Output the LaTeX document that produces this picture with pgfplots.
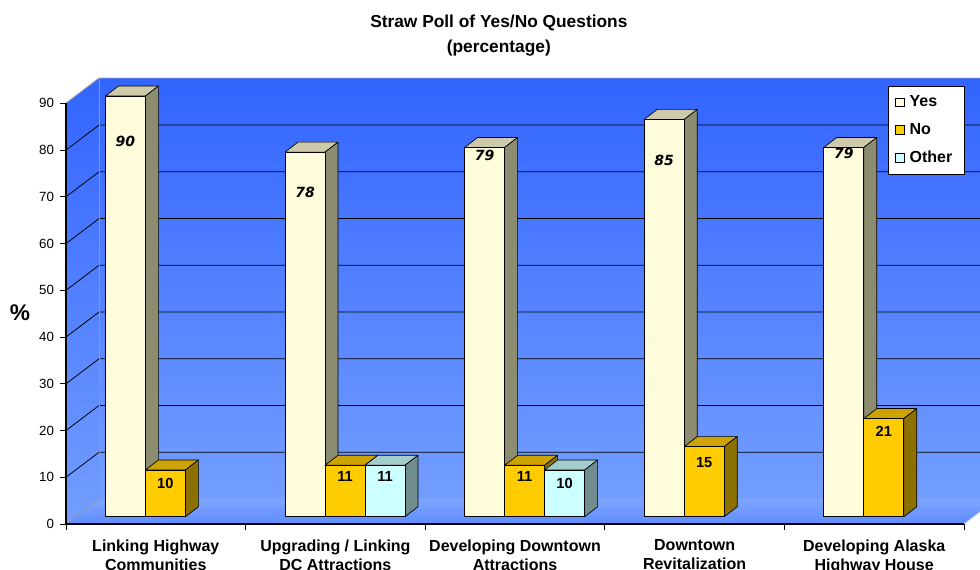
\documentclass[border=0pt]{standalone}
\usepackage{fontspec}
\setmainfont{Liberation Sans}
\newfontfamily\yesfont{DejaVu Sans}
\usepackage{pgfplots}
\usepackage{pgfplotstable}
\pgfplotsset{compat=1.18}

\definecolor{yesF}{RGB}{255,252,220}
\definecolor{yesT}{RGB}{204,202,170}
\definecolor{yesS}{RGB}{140,140,112}
\definecolor{noF}{RGB}{255,204,0}
\definecolor{noT}{RGB}{204,163,0}
\definecolor{noS}{RGB}{140,112,0}
\definecolor{otF}{RGB}{204,255,255}
\definecolor{otT}{RGB}{163,204,204}
\definecolor{otS}{RGB}{112,140,140}
\definecolor{wallTop}{RGB}{50,100,255}
\definecolor{wallBot}{RGB}{115,158,255}
\definecolor{floorBack}{RGB}{125,165,255}
\definecolor{floorFront}{RGB}{95,140,255}

\pgfdeclareplotmark{nothing}{}

\pgfplotstableread{
x y off
0.5 90 45
1.5 78 40
2.5 79 8
3.5 85 41
4.5 79 6
}\yesdata
\pgfplotstableread{
x y off
0.5 10 13
1.5 11 11
2.5 11 11
3.5 15 16
4.5 21 13
}\nodata
\pgfplotstableread{
x y off
1.5 11 11
2.5 10 13
}\otherdata

\pgfplotsset{
  box3d/.style n args={4}{%
    forget plot, only marks, mark=nothing, scatter,
    visualization depends on={rawy \as \val},
    scatter/@pre marker code/.code={%
      \pgfmathsetmacro\h{\val*3.5055}%
      \pgfmathsetmacro\xl{#4+7.2-15}%
      \pgfmathsetmacro\xr{#4+7.2+15}%
      \pgfmathsetmacro\xlb{\xl+9.75}%
      \pgfmathsetmacro\xrb{\xr+9.75}%
      \pgfmathsetmacro\yt{5.475}%
      \pgfmathsetmacro\ytb{5.475+7.5}%
      \pgfmathsetmacro\yb{5.475-\h}%
      \pgfmathsetmacro\ybb{\yb+7.5}%
      \filldraw[fill=#2, draw=black, line width=0.5pt, line join=round] (\xl pt,\yt pt) -- (\xr pt,\yt pt) -- (\xrb pt,\ytb pt) -- (\xlb pt,\ytb pt) -- cycle;
      \filldraw[fill=#3, draw=black, line width=0.5pt, line join=round] (\xr pt,\yt pt) -- (\xrb pt,\ytb pt) -- (\xrb pt,\ybb pt) -- (\xr pt,\yb pt) -- cycle;
      \filldraw[fill=#1, draw=black, line width=0.5pt] (\xl pt,\yb pt) rectangle (\xr pt,\yt pt);
    },
    scatter/@post marker code/.code={},
  },
  lbl/.style n args={2}{%
    forget plot, only marks, mark=nothing,
    visualization depends on={\thisrow{off} \as \off},
    point meta=\thisrow{y},
    nodes near coords={\pgfmathprintnumber{\pgfplotspointmeta}},
    every node near coord/.append style={anchor=center, font=#2, text=black,
      xshift={#1+7.2pt}, yshift={0.75pt*(7.3-\off)}},
  },
}

\begin{document}
\begin{tikzpicture}
\path[use as bounding box] (0pt,0pt) rectangle (735pt,-426.75pt);
\clip (0pt,0pt) rectangle (735pt,-426.75pt);
\begin{scope}[x=0.75pt,y=0.75pt]
  \shade[top color=wallTop, bottom color=wallBot] (99,-78) rectangle (997,-499);
  \shade[top color=wallTop, bottom color=wallBot] (66,-524) -- (99,-499) -- (99,-78) -- (66,-103) -- cycle;
  \shade[top color=floorBack, bottom color=floorFront] (66,-524) -- (964,-524) -- (997,-499) -- (99,-499) -- cycle;
  \foreach \v in {10,20,...,80} {
    \draw[black, line width=0.6pt] (66,{-524+4.674*\v}) -- (99,{-499+4.674*\v}) -- (997,{-499+4.674*\v});
  }
  \draw[black!35, line width=0.6pt] (66,-103) -- (99,-78) -- (997,-78);
  \draw[black!40, line width=0.5pt] (99,-499) -- (99,-78);
  \draw[black!40, line width=0.5pt] (66,-524) -- (99,-499);
  \draw[white!80!blue, line width=0.5pt] (964,-524) -- (997,-499);
\end{scope}
\begin{axis}[
  at={(49.5pt,-393pt)}, anchor=south west,
  scale only axis, width=673.5pt, height=315.5pt,
  xmin=0, xmax=5, ymin=0, ymax=90,
  clip=false,
  axis x line*=bottom, axis y line*=left,
  axis line style={black, line width=0.8pt},
  tick align=outside, major tick length=4.5pt,
  every tick/.style={black, line width=0.6pt},
  xtick={0,1,2,3,4,5}, xticklabels={},
  ytick={0,10,...,90},
  /pgf/number format/assume math mode=true,
  yticklabel style={font=\fontsize{10}{12}\selectfont, xshift=-1pt},
  extra x ticks={0.5,1.5,2.5,3.5,4.5},
  extra x tick labels={{Linking Highway\\Communities},{Upgrading / Linking\\DC Attractions},{Developing Downtown\\Attractions},{Downtown\\Revitalization},{Developing Alaska\\Highway House}},
  extra x tick style={major tick length=0pt, tick label style={align=center, font=\bfseries\fontsize{12}{14.4}\selectfont, yshift=-8.25pt}},
  ylabel={\%},
  ylabel style={rotate=-90, at={(axis description cs:-0.0512,0.5015)}, anchor=center, font=\bfseries\fontsize{17}{17}\selectfont},
  title={Straw Poll of Yes/No Questions\\(percentage)},
  title style={at={(axis description cs:0.482,1.143)}, anchor=center, align=center, font=\bfseries\fontsize{13}{18.75}\selectfont},
  legend style={at={(0.9154,1.041)}, anchor=north west, draw=black, fill=white, line width=0.6pt,
    font=\bfseries\fontsize{12}{14}\selectfont, row sep=7pt, inner xsep=5pt, inner ysep=5pt,
    nodes={inner xsep=4pt}},
  legend cell align=left,
]
\addplot[box3d={yesF}{yesT}{yesS}{-30}] table[x=x,y=y] {\yesdata};
\addplot[box3d={noF}{noT}{noS}{0}] table[x=x,y=y] {\nodata};
\addplot[box3d={otF}{otT}{otS}{30}] table[x=x,y=y] {\otherdata};
\addplot[lbl={-30pt}{\yesfont\bfseries\itshape\fontsize{10.5}{12}\selectfont}] table[x=x,y=y] {\yesdata};
\addplot[lbl={0pt}{\bfseries\fontsize{11}{13}\selectfont}] table[x=x,y=y] {\nodata};
\addplot[lbl={30pt}{\bfseries\fontsize{11}{13}\selectfont}] table[x=x,y=y] {\otherdata};
\addlegendimage{legend image code/.code={\draw[fill=yesF, draw=black, line width=0.5pt] (0pt,-3.2pt) rectangle (6.4pt,3.2pt);}}
\addlegendentry{Yes}
\addlegendimage{legend image code/.code={\draw[fill=noF, draw=black, line width=0.5pt] (0pt,-3.2pt) rectangle (6.4pt,3.2pt);}}
\addlegendentry{No}
\addlegendimage{legend image code/.code={\draw[fill=otF, draw=black, line width=0.5pt] (0pt,-3.2pt) rectangle (6.4pt,3.2pt);}}
\addlegendentry{Other}
\end{axis}
\end{tikzpicture}
\end{document}
